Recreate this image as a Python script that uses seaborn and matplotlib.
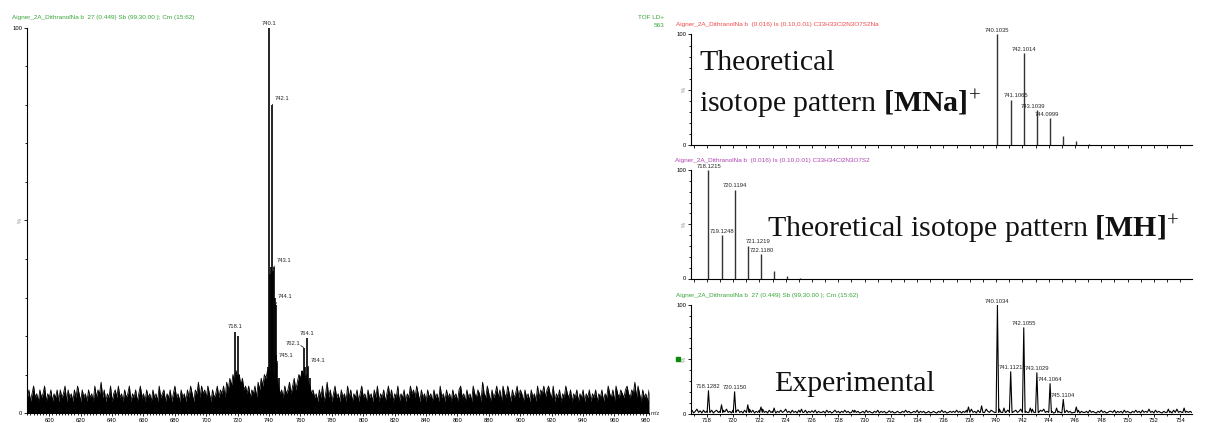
import numpy as np
import pandas as pd
import matplotlib
matplotlib.use("Agg")
import matplotlib.pyplot as plt
from matplotlib.patches import Rectangle
from matplotlib.ticker import MultipleLocator, FixedLocator
import seaborn as sns

# ---------------------------------------------------------------- data
# full-range TOF LD+ survey spectrum (relative intensity, %), one point per m/z unit
survey_noise = [
    4, 6, 3, 5, 7, 4, 5, 3, 6, 4, 5, 7, 3, 5, 4, 6, 3, 5, 4, 6,
    3, 6, 4, 5, 7, 3, 6, 4, 5, 3, 6, 4, 7, 5, 3, 6, 4, 5, 3, 6,
    4, 5, 3, 7, 4, 6, 5, 8, 4, 6, 3, 5, 4, 7, 3, 5, 6, 4, 7, 4,
    5, 3, 6, 4, 5, 7, 3, 5, 4, 6, 3, 5, 7, 4, 5, 3, 6, 4, 5, 3,
    6, 4, 5, 3, 7, 4, 5, 6, 3, 5, 4, 6, 3, 5, 7, 4, 5, 3, 6, 4,
    5, 3, 6, 4, 7, 5, 3, 6, 5, 8, 4, 7, 5, 6, 4, 7, 5, 3, 6, 4,
    5, 7, 4, 6, 5, 7, 4, 8, 6, 9, 7, 10, 8, 11, 9, 10, 7, 9, 6, 7,
    5, 7, 4, 6, 5, 7, 4, 8, 6, 9, 7, 10, 9, 11, 10, 11, 9, 10, 8, 9,
    7, 5, 6, 4, 7, 5, 6, 8, 5, 7, 9, 6, 8, 10, 9, 11, 10, 9, 10, 8,
    7, 5, 6, 4, 5, 3, 6, 4, 7, 3, 5, 8, 4, 6, 3, 5, 7, 4, 5, 3,
    6, 4, 5, 3, 7, 4, 6, 3, 5, 4, 6, 3, 5, 7, 4, 5, 3, 6, 4, 5,
    3, 6, 4, 7, 3, 5, 4, 6, 3, 5, 7, 4, 6, 3, 5, 4, 7, 3, 5, 4,
    6, 3, 5, 4, 7, 5, 6, 4, 7, 5, 3, 6, 4, 5, 3, 6, 4, 5, 3, 6,
    4, 5, 3, 7, 4, 5, 3, 6, 4, 5, 3, 6, 4, 5, 3, 6, 7, 4, 5, 3,
    6, 4, 5, 3, 7, 5, 4, 6, 5, 3, 8, 5, 4, 7, 5, 3, 6, 4, 5, 7,
    4, 6, 3, 7, 5, 4, 7, 5, 3, 6, 4, 5, 7, 4, 6, 5, 3, 6, 4, 5,
    3, 6, 4, 5, 3, 7, 4, 6, 5, 7, 4, 6, 7, 5, 4, 7, 3, 5, 4, 6,
    3, 5, 4, 7, 5, 4, 6, 3, 5, 4, 6, 3, 5, 4, 6, 3, 5, 4, 6, 3,
    5, 4, 6, 3, 5, 4, 6, 3, 5, 4, 7, 5, 4, 6, 3, 7, 5, 4, 6, 5,
    4, 6, 7, 5, 4, 6, 5, 8, 4, 7, 5, 3, 6, 4, 5, 3, 6,
]
survey_start = 586

survey_peak_mz = [718.1, 719.1, 720.1, 721.1, 722.1, 739.1, 740.1, 740.6, 741.1,
                  741.6, 742.1, 742.6, 743.1, 743.6, 744.1, 744.6, 745.1, 746.1,
                  761.1, 762.1, 763.1, 764.1, 765.1, 766.1]
survey_peak_int = [21, 9, 20, 10, 8, 12, 100, 36, 38,
                   36, 80, 37, 38, 30, 28, 15, 13, 9,
                   11, 17, 12, 19.5, 12, 9]
survey_label_mz = [718.1, 740.1, 742.1, 743.1, 744.1, 745.1, 762.1, 764.1, 765.1]
survey_label_text = ["718.1", "740.1", "742.1", "743.1", "744.1", "745.1", "762.1", "764.1", "764.1"]

# theoretical isotope pattern, sodium adduct
mna_mz = [740.1035, 741.1065, 742.1014, 743.1039, 744.0999, 745.1000, 746.1000, 747.1000, 748.1000]
mna_int = [100, 41, 83, 31.5, 24, 8, 3.6, 1.0, 0.4]

# theoretical isotope pattern, protonated molecule
mh_mz = [718.1215, 719.1248, 720.1194, 721.1219, 722.1180, 723.1200, 724.1200, 725.1200]
mh_int = [100, 40, 82, 30, 22.5, 7, 2.5, 0.8]

# experimental zoom 716.75-755, baseline trace every 0.125 m/z
exp_noise = [
    1, 3, 0.5, 2, 4, 1, 2.5, 0.5, 3, 1, 2, 4, 1, 3, 0.5, 2,
    3, 1, 2, 0.5, 3, 1.5, 4, 1, 2, 0.5, 3, 1, 2, 3.5, 1, 2,
    0.5, 3, 1, 2, 4, 1, 3, 0.5, 2, 1, 3, 1.5, 4, 1, 2, 0.5,
    3, 1, 2, 3.5, 0.5, 2, 1, 3, 1, 2, 4, 1, 2, 0.5, 3, 1,
    2, 0.5, 3, 1, 2, 1, 3, 0.5, 2, 1, 2.5, 1, 3, 0.5, 2, 1,
    1, 2, 0.5, 3, 1, 2, 0.5, 1.5, 3, 1, 2, 0.5, 2, 1, 3, 1,
    2, 0.5, 1, 2, 3, 1, 2, 0.5, 1, 2, 0.5, 3, 1, 2, 1, 0.5,
    2, 1, 3, 0.5, 2, 1, 2, 0.5, 1, 2.5, 1, 2, 0.5, 1, 2, 1,
    0.5, 2, 1, 3, 1, 2, 0.5, 1, 2, 1, 3, 0.5, 2, 1, 2, 0.5,
    1, 2, 0.5, 1, 2, 1, 0.5, 2, 1, 3, 1, 2, 0.5, 1, 2, 1,
    2, 1, 3, 1, 2, 0.5, 2, 1, 3, 1, 2, 4, 1, 2, 0.5, 3,
    1, 2, 3, 1, 4, 2, 1, 3, 2, 1, 3, 2, 4, 1, 3, 2,
    1, 3, 2, 4, 1, 2, 3, 1, 2, 4, 1, 3, 2, 1, 3, 2,
    4, 1, 3, 2, 1, 3, 2, 4, 1, 2, 3, 1, 2, 0.5, 3, 1,
    2, 1, 0.5, 2, 1, 3, 1, 2, 0.5, 1, 2, 1, 3, 0.5, 2, 1,
    1, 2, 0.5, 3, 1, 2, 1, 0.5, 2, 1, 3, 1, 2, 0.5, 1, 2,
    2, 1, 3, 0.5, 2, 1, 2, 0.5, 3, 1, 2, 1, 0.5, 2, 1, 3,
    1, 2, 0.5, 3, 1, 2, 1, 4, 1, 2, 0.5, 3, 1, 2, 1, 0.5,
    2, 1, 3, 1, 2, 0.5, 3, 1, 4, 1, 2, 1, 3, 0.5, 2, 1,
    2, 1, 2,
]
exp_start = 716.75
exp_step = 0.125
exp_mz = [718.1282, 719.12, 720.1150, 721.12, 722.12, 723.12, 725.2, 729.1, 737.9,
          738.9, 740.1034, 740.6, 741.1121, 742.1055, 742.6, 743.1029, 744.1064,
          744.6, 745.1104, 746.1, 753.1, 754.3]
exp_int = [21, 8, 20, 8, 6, 5, 4, 3, 6,
           7, 100, 5, 38.5, 79, 5, 37.5, 27.5,
           5, 13, 6, 4, 5]
exp_label_mz = [718.1282, 720.1150, 740.1034, 741.1121, 742.1055, 743.1029, 744.1064, 745.1104]

survey_title = "Aigner_2A_DithranolNa b  27 (0.449) Sb (99,30.00 ); Cm (15:62)"
mna_title = "Aigner_2A_DithranolNa b  (0.016) Is (0.10,0.01) C33H33Cl2N3O7S2Na"
mh_title = "Aigner_2A_DithranolNa b  (0.016) Is (0.10,0.01) C33H34Cl2N3O7S2"
exp_title = survey_title

# ---------------------------------------------------------------- style
sns.set_theme(style="ticks")
plt.rcParams["font.family"] = ["Liberation Sans", "DejaVu Sans"]
plt.rcParams["mathtext.fontset"] = "custom"
plt.rcParams["mathtext.rm"] = "Liberation Serif"
plt.rcParams["mathtext.bf"] = "Liberation Serif:bold"
plt.rcParams["mathtext.it"] = "Liberation Serif:italic"

W, H = 1217, 423
fig = plt.figure(figsize=(W / 100, H / 100), dpi=100)
fig.patch.set_facecolor("white")

GREEN = "#3aa53a"
RED = "#f04a4a"
MAGENTA = "#b044b4"
SMALL = 4.2
PX = 0.72  # points per pixel at 100 dpi


def fx(x):
    return x / W


def fy(y):
    return 1 - y / H


def px_axes(x0, x1, ytop, ybot):
    return fig.add_axes([fx(x0), fy(ybot), (x1 - x0) / W, (ybot - ytop) / H])


def style_axes(ax, xlim):
    ax.set_xlim(*xlim)
    ax.set_ylim(0, 100)
    ax.set_facecolor("none")
    for s in ("top", "right"):
        ax.spines[s].set_visible(False)
    for s in ("left", "bottom"):
        ax.spines[s].set_color("black")
        ax.spines[s].set_linewidth(0.8)
    ax.tick_params(axis="both", which="both", direction="out", colors="black",
                   labelsize=SMALL, pad=1, width=0.6, left=True, bottom=True)
    ax.tick_params(which="major", length=2.4)
    ax.tick_params(which="minor", length=1.5)
    ax.yaxis.set_major_locator(FixedLocator([0, 50, 100]))
    ax.yaxis.set_minor_locator(MultipleLocator(10))
    ax.set_yticklabels(["0", "%", "100"])
    pct = ax.get_yticklabels()[1]
    pct.set_rotation(90)
    pct.set_color("#888888")
    pct.set_va("center")
    ax.set_xlabel("")
    ax.set_ylabel("")
    ax.grid(False)


def stems(ax, mz, inten, color="black", lw=1.0):
    ax.vlines(mz, 0, inten, color=color, lw=lw)


# ---------------------------------------------------------------- survey spectrum
ax0 = px_axes(27, 649, 28, 413)
s_mz = survey_start + np.arange(len(survey_noise))
s_df = pd.DataFrame({"mz": s_mz, "intensity": survey_noise})
ax0.fill_between(s_df["mz"], 0, s_df["intensity"], color="black", lw=0)
sns.lineplot(data=s_df, x="mz", y="intensity", ax=ax0, color="black", lw=0.6,
             estimator=None, sort=False)
stems(ax0, survey_peak_mz, survey_peak_int, lw=1.2)
style_axes(ax0, (585.8, 982.0))
ax0.xaxis.set_minor_locator(MultipleLocator(2))
ax0.set_xticks(np.arange(600, 981, 20))

peak_lookup = dict(zip(survey_peak_mz, survey_peak_int))
# (dx px, dy px, ha, leader)
survey_label_pos = {
    718.1: (0, 3, "center", False),
    740.1: (0, 2, "center", False),
    742.1: (2, 4, "left", True),
    743.1: (3, 4, "left", True),
    744.1: (2, 6, "left", True),
    745.1: (2, 5, "left", True),
    762.1: (-3, 2, "right", True),
    764.1: (0, 2, "center", False),
    765.1: (2, 4, "left", True),
}
for m, txt in zip(survey_label_mz, survey_label_text):
    dx, dy, ha, leader = survey_label_pos[m]
    kw = {}
    if leader:
        kw["arrowprops"] = dict(arrowstyle="-", lw=0.5, color="black", shrinkA=0, shrinkB=0,
                                relpos=(0.0, 0.0) if ha == "left" else (1.0, 0.0))
    ax0.annotate(txt, xy=(m, peak_lookup[m]), xytext=(dx * PX, dy * PX),
                 textcoords="offset points", ha=ha, va="bottom", fontsize=SMALL,
                 annotation_clip=False, **kw)

fig.text(fx(12), fy(19), survey_title, color=GREEN, fontsize=4.6, va="baseline")
fig.text(fx(664), fy(19), "TOF LD+", color=GREEN, fontsize=4.6, ha="right", va="baseline")
fig.text(fx(664), fy(27), "563", color=GREEN, fontsize=4.6, ha="right", va="baseline")
fig.text(fx(651), fy(415), "m/z", fontsize=SMALL, va="baseline")

# ---------------------------------------------------------------- isotope panels
XR = (716.8, 754.9)
RX0, RX1 = 691, 1192


def label_peaks(ax, mz, inten, n, offsets):
    for (m, h), dx in zip(list(zip(mz, inten))[:n], offsets):
        ax.annotate(f"{m:.4f}", xy=(m, h), xytext=(dx * PX, 1.5 * PX),
                    textcoords="offset points", ha="center", va="bottom",
                    fontsize=SMALL, annotation_clip=False)


ax1 = px_axes(RX0, RX1, 34.5, 145)
stems(ax1, mna_mz, mna_int, color="#333333", lw=1.0)
style_axes(ax1, XR)
ax1.xaxis.set_major_locator(MultipleLocator(1))
ax1.set_xticklabels([])
label_peaks(ax1, mna_mz, mna_int, 5, [0, 5, 0, -4, -3.5])
fig.text(fx(676), fy(26), mna_title, color=RED, fontsize=4.6, va="baseline")

ax2 = px_axes(RX0, RX1, 170, 278.5)
stems(ax2, mh_mz, mh_int, color="#333333", lw=1.0)
style_axes(ax2, XR)
ax2.xaxis.set_major_locator(MultipleLocator(1))
ax2.set_xticklabels([])
label_peaks(ax2, mh_mz, mh_int, 5, [1, 0.5, 0, 10, 1])
fig.text(fx(675), fy(162), mh_title, color=MAGENTA, fontsize=4.6, va="baseline")

# experimental profile: baseline trace with peak apexes spliced in
ax3 = px_axes(RX0, RX1, 305, 413.5)
grid = exp_start + exp_step * np.arange(len(exp_noise))
noise = np.asarray(exp_noise, float)
pk_mz = np.asarray(exp_mz)
pk_int = np.asarray(exp_int)
keep = np.all(np.abs(grid[:, None] - pk_mz[None, :]) > 0.11, axis=1)
half = 0.1
base = np.full(len(pk_mz), 1.0)
x = np.concatenate([grid[keep], pk_mz - half, pk_mz, pk_mz + half])
y = np.concatenate([noise[keep], base, pk_int, base])
order = np.argsort(x, kind="stable")
e_df = pd.DataFrame({"mz": x[order], "intensity": y[order]})
sns.lineplot(data=e_df, x="mz", y="intensity", ax=ax3, color="black", lw=0.8,
             estimator=None, sort=False)
style_axes(ax3, XR)
ax3.xaxis.set_minor_locator(MultipleLocator(1))
ax3.set_xticks(np.arange(718, 755, 2))
exp_lookup = dict(zip(exp_mz, exp_int))
for m in exp_label_mz:
    ax3.annotate(f"{m:.4f}", xy=(m, exp_lookup[m]), xytext=(0, 1.5 * PX),
                 textcoords="offset points", ha="center", va="bottom",
                 fontsize=SMALL, annotation_clip=False)
fig.text(fx(676), fy(297), exp_title, color=GREEN, fontsize=4.6, va="baseline")
fig.add_artist(Rectangle((fx(676), fy(361)), 4 / W, 4 / H, color="#0a8a0a",
                         transform=fig.transFigure))

# ---------------------------------------------------------------- captions
SERIF = dict(family="Liberation Serif", fontsize=21.5, color="#111111", va="baseline")
fig.text(fx(699), fy(70), "Theoretical", **SERIF)
fig.text(fx(699), fy(112), r"isotope pattern $\mathbf{[MNa]}^{+}$", **SERIF)
fig.text(fx(767), fy(237), r"Theoretical isotope pattern $\mathbf{[MH]}^{+}$", **SERIF)
fig.text(fx(774), fy(391), "Experimental", **SERIF)

fig.savefig("out.png", dpi=100)
